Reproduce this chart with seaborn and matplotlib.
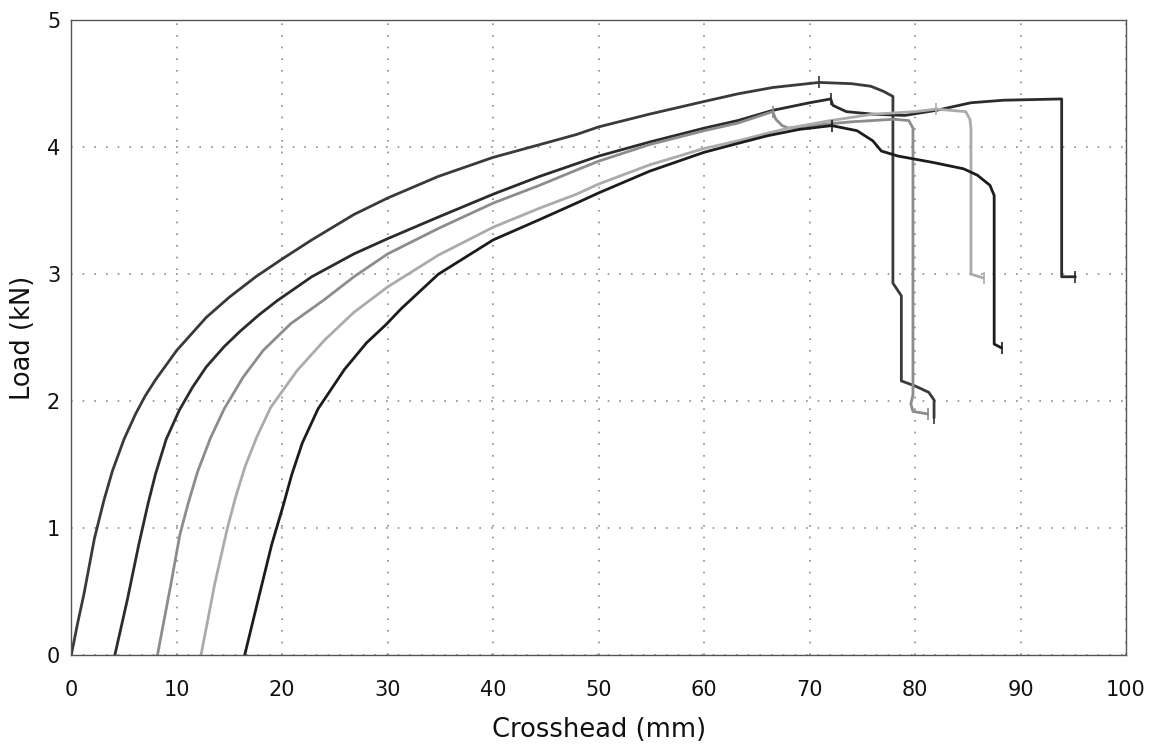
import numpy as np
import pandas as pd
import seaborn as sns
import matplotlib.pyplot as plt
from matplotlib.ticker import MultipleLocator

# crosshead (mm) / load (kN) for each specimen
s1_x = [0, 0.6, 1.2, 2.2, 3.1, 3.9, 5.0, 6.1, 7.0, 8.0, 10.0, 12.8, 15.0, 17.5, 20.0, 22.8,
        26.8, 30.0, 34.8, 40.0, 44.4, 47.9, 50.0, 54.8, 60.0, 63.2, 66.5, 70.9, 74.0,
        75.8, 77.0, 77.9, 77.9, 78.7, 78.7, 80.0, 81.3, 81.8, 81.8]
s1_y = [0, 0.25, 0.48, 0.92, 1.22, 1.45, 1.70, 1.90, 2.04, 2.17, 2.40, 2.66, 2.82, 2.98, 3.12, 3.27,
        3.47, 3.60, 3.77, 3.92, 4.02, 4.10, 4.16, 4.26, 4.36, 4.42, 4.47, 4.51, 4.50,
        4.48, 4.44, 4.40, 2.93, 2.83, 2.16, 2.12, 2.07, 2.01, 1.87]

s2_x = [4.13, 5.3, 6.4, 7.3, 8.0, 9.0, 10.25, 11.5, 12.8, 14.5, 16.0, 17.8, 19.5, 22.8,
        26.8, 30.0, 34.8, 40.0, 44.4, 47.9, 50.0, 54.8, 60.0, 63.2, 66.5, 70.0, 72.0,
        72.2, 72.7, 73.5, 76.0, 79.0, 82.0, 85.3, 88.4, 93.9, 93.9, 95.2]
s2_y = [0, 0.43, 0.87, 1.20, 1.43, 1.70, 1.93, 2.11, 2.27, 2.43, 2.55, 2.68, 2.79, 2.98,
        3.16, 3.28, 3.45, 3.63, 3.77, 3.87, 3.93, 4.04, 4.15, 4.21, 4.29, 4.35, 4.38,
        4.33, 4.31, 4.28, 4.26, 4.25, 4.29, 4.35, 4.37, 4.38, 2.98, 2.98]

s3_x = [8.17, 9.45, 10.3, 11.1, 12.0, 13.2, 14.5, 16.3, 18.2, 20.8, 24.0, 26.8, 30.0,
        34.8, 40.0, 44.4, 47.9, 50.0, 54.8, 60.0, 63.2, 66.5, 66.8, 67.4, 68.0, 70.0,
        74.0, 78.0, 79.4, 79.8, 79.8, 79.6, 79.8, 81.2]
s3_y = [0, 0.56, 0.95, 1.20, 1.45, 1.71, 1.94, 2.19, 2.40, 2.61, 2.80, 2.98, 3.16,
        3.36, 3.56, 3.70, 3.82, 3.89, 4.02, 4.13, 4.19, 4.28, 4.22, 4.17, 4.15, 4.17,
        4.20, 4.22, 4.21, 4.15, 2.05, 1.98, 1.92, 1.90]

s4_x = [12.3, 13.6, 14.8, 15.6, 16.5, 17.6, 18.9, 21.4, 24.0, 26.8, 30.0, 34.8, 40.0,
        44.4, 47.9, 50.0, 54.8, 60.0, 63.2, 66.0, 68.0, 72.0, 76.0, 80.0, 82.0, 84.8,
        85.2, 85.3, 85.3, 86.5]
s4_y = [0, 0.56, 1.00, 1.25, 1.49, 1.72, 1.95, 2.24, 2.48, 2.70, 2.90, 3.15, 3.37,
        3.52, 3.63, 3.71, 3.86, 3.99, 4.05, 4.11, 4.15, 4.21, 4.26, 4.28, 4.30, 4.28,
        4.22, 4.15, 3.00, 2.97]

s5_x = [16.44, 17.7, 19.0, 20.1, 20.9, 21.9, 23.4, 25.9, 28.0, 29.8, 31.3, 34.8, 40.0,
        44.4, 47.9, 50.0, 54.8, 60.0, 63.2, 66.0, 69.0, 72.1, 74.5, 76.0, 76.8, 78.4,
        81.7, 84.6, 85.9, 87.1, 87.5, 87.5, 88.2]
s5_y = [0, 0.43, 0.87, 1.18, 1.42, 1.67, 1.94, 2.25, 2.46, 2.60, 2.73, 3.00, 3.27,
        3.43, 3.56, 3.64, 3.81, 3.96, 4.03, 4.09, 4.14, 4.17, 4.13, 4.05, 3.97, 3.93,
        3.88, 3.83, 3.78, 3.70, 3.62, 2.45, 2.42]

specimens = ["1", "2", "3", "4", "5"]
line_colors = ["#3a3a3a", "#2b2b2b", "#8c8c8c", "#ababab", "#1c1c1c"]

curves = [(s1_x, s1_y), (s2_x, s2_y), (s3_x, s3_y), (s4_x, s4_y), (s5_x, s5_y)]
df = pd.concat(
    [pd.DataFrame({"crosshead": cx, "load": cy, "specimen": name})
     for name, (cx, cy) in zip(specimens, curves)],
    ignore_index=True,
)

sns.set_style("white")
plt.rcParams["font.family"] = ["DejaVu Sans"]

fig = plt.figure(figsize=(11.49, 7.48), dpi=100)
ax = fig.add_axes([0.062, 0.124, 0.918, 0.849])

sns.lineplot(data=df, x="crosshead", y="load", hue="specimen", palette=line_colors,
             sort=False, estimator=None, linewidth=2.0, legend=False, ax=ax)

# small tick markers at the peak and at the end of each trace
for (cx, cy), col in zip(curves, line_colors):
    i = int(np.argmax(cy))
    ax.plot([cx[i], cx[-1]], [cy[i], cy[-1]], linestyle="none", marker="|",
            markersize=9, markeredgewidth=1.2, color=col)

ax.set_xlim(0, 100)
ax.set_ylim(0, 5)
ax.xaxis.set_major_locator(MultipleLocator(10))
ax.xaxis.set_minor_locator(MultipleLocator(5))
ax.yaxis.set_major_locator(MultipleLocator(1))
ax.yaxis.set_minor_locator(MultipleLocator(0.5))

ax.grid(True, which="major", color="#8a8a8a", linestyle=(0, (1, 6)), linewidth=1.2)
ax.tick_params(which="both", direction="inout", color="#444444", width=1)
ax.tick_params(which="major", length=8, labelsize=15, labelcolor="#111111")
ax.tick_params(which="minor", length=8)
ax.tick_params(axis="x", which="major", pad=14)
ax.tick_params(axis="y", which="major", pad=4)
for side in ["left", "right", "top", "bottom"]:
    ax.spines[side].set_color("#555555")
    ax.spines[side].set_linewidth(1)

ax.set_xlabel("Crosshead (mm)", fontsize=18.5, color="#111111", labelpad=12)
ax.set_ylabel("Load (kN)", fontsize=18.5, color="#111111", labelpad=8)

fig.savefig("out.png", dpi=100)
